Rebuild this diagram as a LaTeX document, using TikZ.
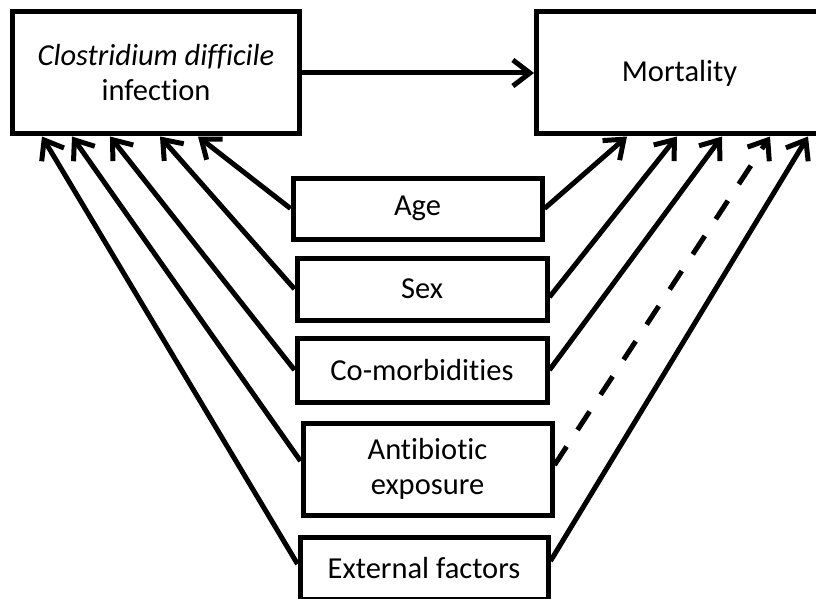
\documentclass[tikz,border=0pt]{standalone}
\usepackage{fontspec}
\setmainfont{Carlito}[Ligatures={NoCommon}]
\usetikzlibrary{positioning,arrows.meta}

\begin{document}
\begin{tikzpicture}[x=1pt, y=-1pt,
        box/.style={rectangle, draw=black, line width=5pt, align=center, inner sep=0pt, font=\fontsize{30.5}{35}\selectfont},
        link/.style={line width=5pt, -{Straight Barb[length=17pt, width=26pt]}},
        ]
        \useasboundingbox (0,0) rectangle (816,599);
        %Nodes
        \node[box, minimum width=287pt, minimum height=122pt] (cdi)       at (156,73)         {\textit{Clostridium difficile}\\infection};
        \node[box, minimum width=286pt, minimum height=122pt] (mortality) [right=232pt of cdi] {Mortality};
        \node[box, minimum width=249pt, minimum height=61pt]  (age)       at (417.5,208.5)    {Age};
        \node[box, minimum width=250pt, minimum height=62pt]  (sex)       [below=14pt of age, xshift=4.5pt] {Sex};
        \node[box, minimum width=250pt, minimum height=64pt]  (comorb)    [below=13pt of sex] {Co-morbidities};
        \node[box, minimum width=249pt, minimum height=92pt]  (abx)       [below=16pt of comorb, xshift=5.5pt] {Antibiotic\\exposure};
        \node[box, minimum width=248pt, minimum height=62pt]  (external)  [below=17pt of abx, xshift=-3.5pt] {External factors};

        %Lines
        \draw[link] (cdi.east) -- (mortality.west);

        \draw[link] (age.west) -- ([xshift=188pt]cdi.south west);
        \draw[link] (sex.west) -- ([xshift=150pt]cdi.south west);
        \draw[link] (comorb.west) -- ([xshift=100pt]cdi.south west);
        \draw[link] ([yshift=8pt]abx.west) -- ([xshift=62pt]cdi.south west);
        \draw[link] ([yshift=4pt]external.west) -- ([xshift=32pt]cdi.south west);

        \draw[link] (age.east) -- ([xshift=93pt]mortality.south west);
        \draw[link] ([yshift=-8pt]sex.east) -- ([xshift=143pt]mortality.south west);
        \draw[link] (comorb.east) -- ([xshift=188pt]mortality.south west);
        \draw[link, dash pattern=on 22pt off 20pt] ([yshift=4pt]abx.east) -- ([xshift=236pt]mortality.south west);
        \draw[link] ([yshift=7pt]external.east) -- ([xshift=274pt]mortality.south west);
\end{tikzpicture}
\end{document}
